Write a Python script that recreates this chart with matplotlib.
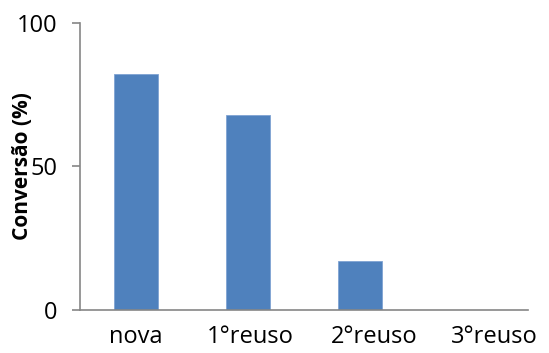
import matplotlib
matplotlib.use('Agg')
import matplotlib.pyplot as plt
import matplotlib.transforms as mtransforms
import numpy as np

categorias = ['nova', '1°reuso', '2°reuso', '3°reuso']
conversao = [82, 68, 17, 0]

plt.rcParams['font.family'] = ['Open Sans', 'DejaVu Sans']

fig = plt.figure(figsize=(5.49, 3.53), dpi=100)
ax = fig.add_axes([0.1457, 0.1218, 0.816, 0.814])

x = np.arange(len(categorias))
ax.bar(x, conversao, width=0.4, color='#4F81BD', edgecolor='#7FA3D3', linewidth=0.6)

ax.set_xlim(-0.5, len(categorias) - 0.5)
ax.set_ylim(0, 100)
ax.set_yticks([0, 50, 100])
ax.set_xticks(x)
ax.set_xticklabels(categorias)

for s in ['top', 'right']:
    ax.spines[s].set_visible(False)
for s in ['left', 'bottom']:
    ax.spines[s].set_color('#868686')
    ax.spines[s].set_linewidth(1.2)

ax.tick_params(axis='y', length=6, width=1.2, color='#868686', labelsize=17, pad=10)
ax.tick_params(axis='x', length=0, labelsize=17, pad=11)

# the last labels sit a bit to the right of their bars
desloc = [0, 2, 14, 22]
for lbl, dx in zip(ax.get_xticklabels(), desloc):
    lbl.set_transform(lbl.get_transform() +
                      mtransforms.ScaledTranslation(dx / 100, 0, fig.dpi_scale_trans))

ax.set_ylabel('Conversão (%)', fontsize=15, fontweight='bold')
ax.yaxis.set_label_coords(-0.105, 0.5)

fig.savefig('out.png', dpi=100)
